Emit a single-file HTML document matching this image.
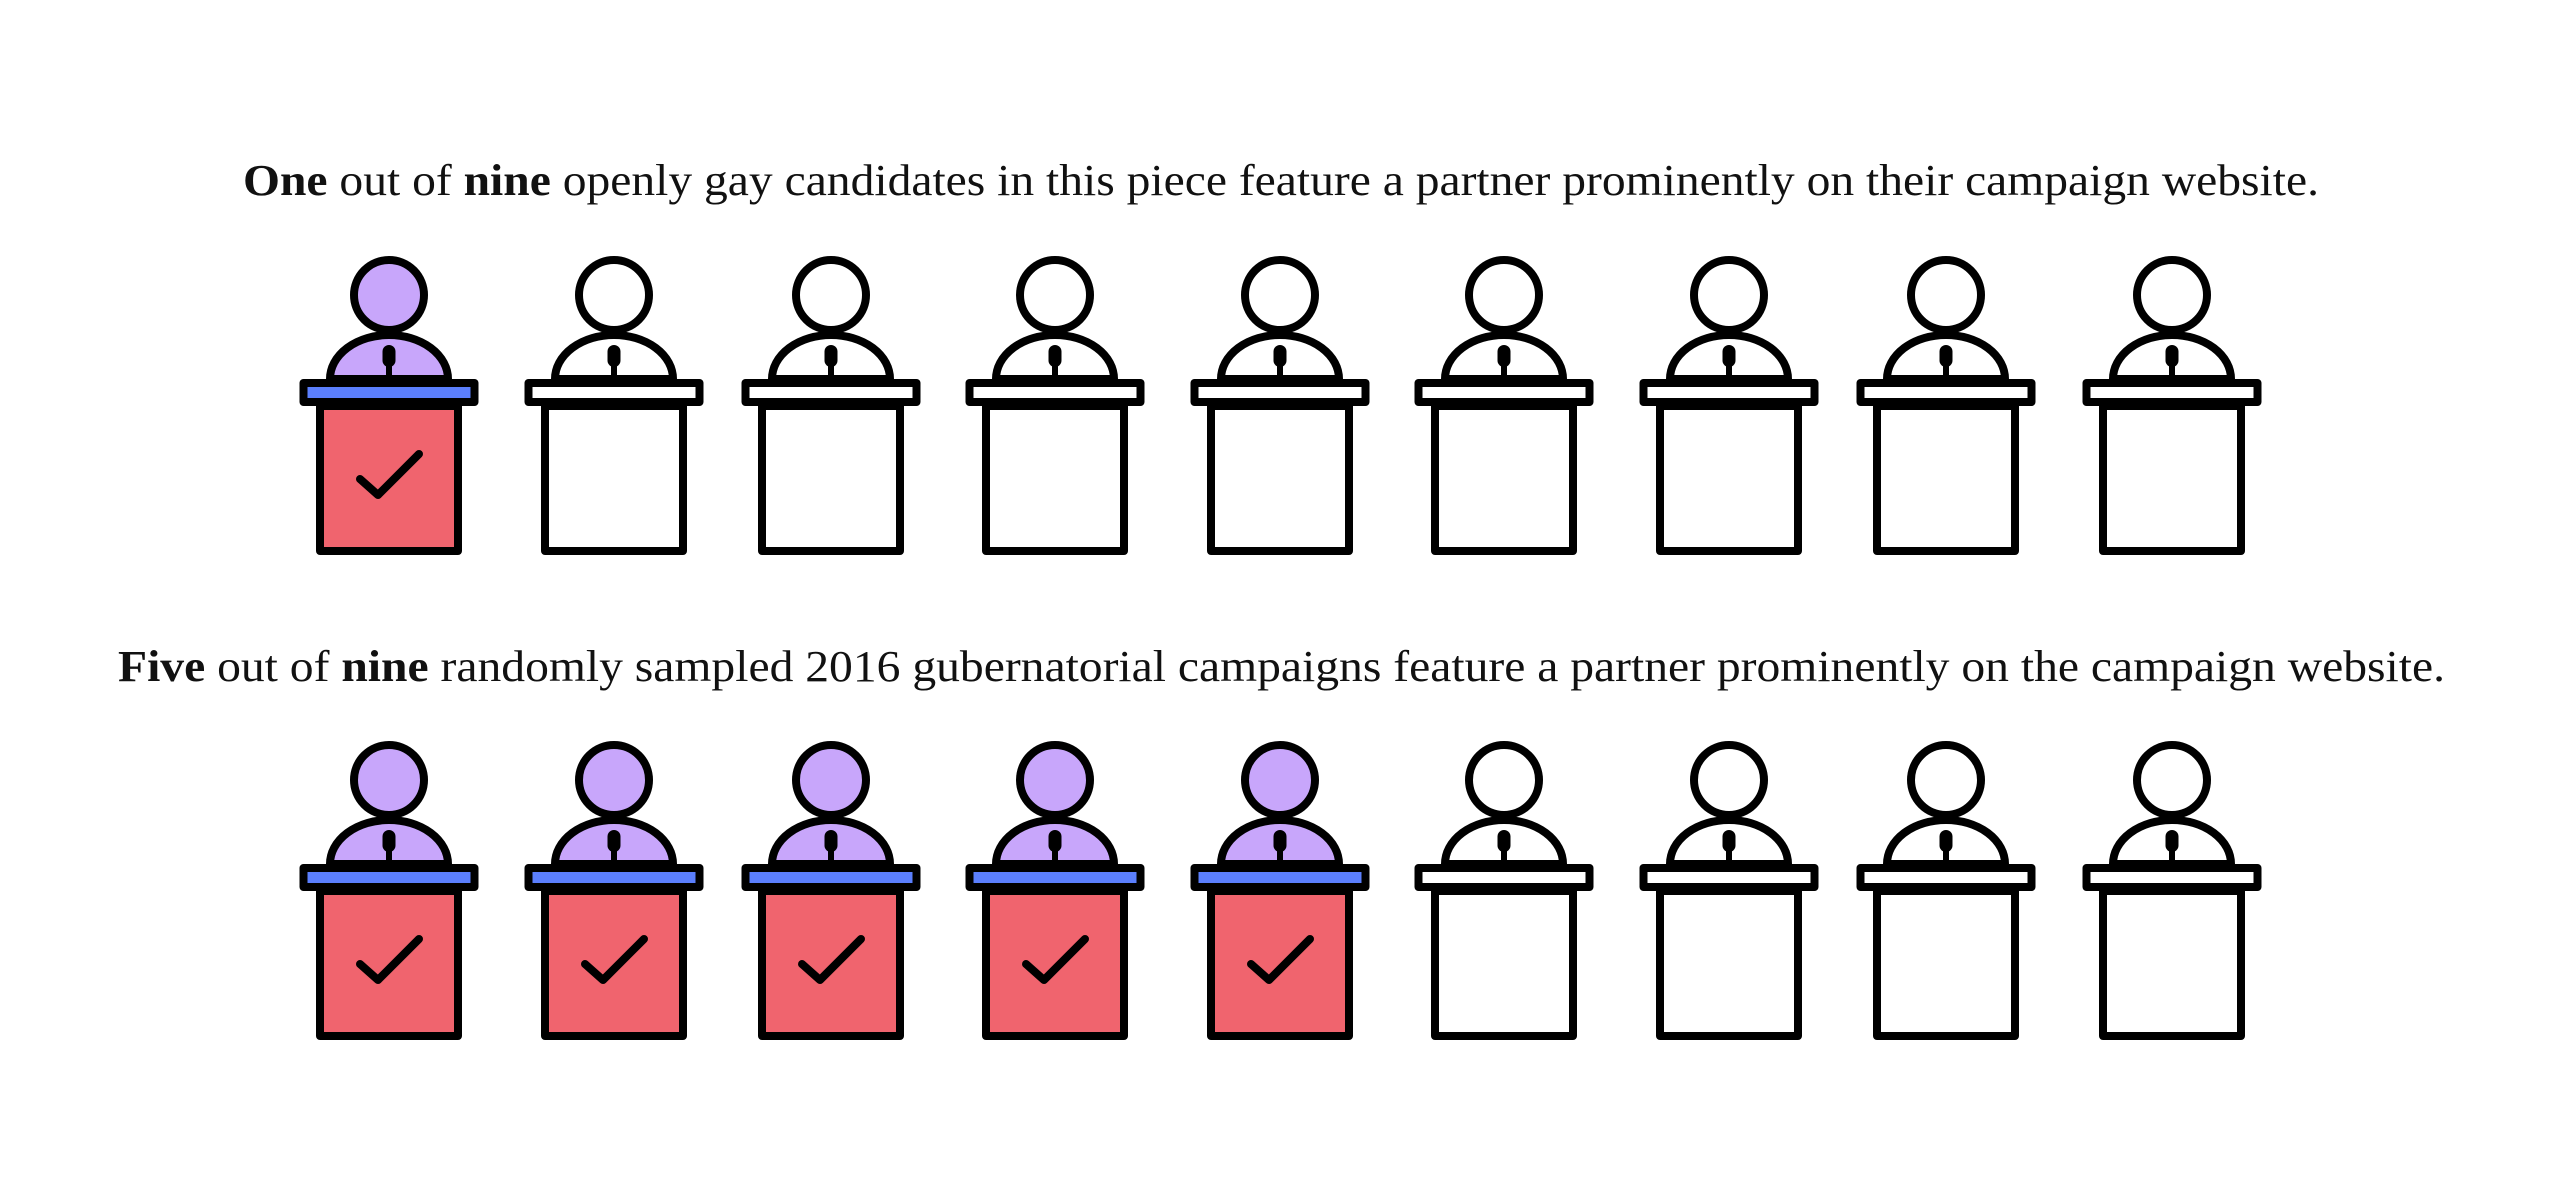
<!DOCTYPE html>
<html><head><meta charset="utf-8"><style>
html,body{margin:0;padding:0;background:#fff;}
svg{display:block;}
text{font-family:"Liberation Serif",serif;font-size:44px;fill:#111;}
</style></head><body>
<svg width="2560" height="1200" viewBox="0 0 2560 1200" xmlns="http://www.w3.org/2000/svg">
<defs>
<g id="on" stroke="#000" stroke-width="8" stroke-linejoin="round" stroke-linecap="round">
<path d="M -59 379 A 59 44 0 0 1 59 379 Z" fill="#c8a6fb"/>
<rect x="-3" y="350" width="6" height="30" fill="#000" stroke="none"/>
<rect x="-6.5" y="345" width="13" height="22" rx="6.5" fill="#000" stroke="none"/>
<rect x="-69" y="406" width="138" height="145" fill="#f0646e"/>
<rect x="-85.5" y="383" width="171" height="19" fill="#5b7ffd"/>
<circle cx="0" cy="295" r="35" fill="#c8a6fb"/>
<polyline points="-29,479 -11,495 30,454" fill="none"/>
</g>
<g id="off" stroke="#000" stroke-width="8" stroke-linejoin="round" stroke-linecap="round">
<path d="M -59 379 A 59 44 0 0 1 59 379 Z" fill="#fff"/>
<rect x="-3" y="350" width="6" height="30" fill="#000" stroke="none"/>
<rect x="-6.5" y="345" width="13" height="22" rx="6.5" fill="#000" stroke="none"/>
<rect x="-69" y="406" width="138" height="145" fill="#fff"/>
<rect x="-85.5" y="383" width="171" height="19" fill="#fff"/>
<circle cx="0" cy="295" r="35" fill="#fff"/>
</g>
</defs>
<text x="243" y="195" textLength="2076" lengthAdjust="spacingAndGlyphs"><tspan font-weight="bold">One</tspan> out of <tspan font-weight="bold">nine</tspan> openly gay candidates in this piece feature a partner prominently on their campaign website.</text>
<use href="#on" x="389" y="0"/>
<use href="#off" x="614" y="0"/>
<use href="#off" x="831" y="0"/>
<use href="#off" x="1055" y="0"/>
<use href="#off" x="1280" y="0"/>
<use href="#off" x="1504" y="0"/>
<use href="#off" x="1729" y="0"/>
<use href="#off" x="1946" y="0"/>
<use href="#off" x="2172" y="0"/>
<text x="118" y="681" textLength="2327" lengthAdjust="spacingAndGlyphs"><tspan font-weight="bold">Five</tspan> out of <tspan font-weight="bold">nine</tspan> randomly sampled 2016 gubernatorial campaigns feature a partner prominently on the campaign website.</text>
<use href="#on" x="389" y="485"/>
<use href="#on" x="614" y="485"/>
<use href="#on" x="831" y="485"/>
<use href="#on" x="1055" y="485"/>
<use href="#on" x="1280" y="485"/>
<use href="#off" x="1504" y="485"/>
<use href="#off" x="1729" y="485"/>
<use href="#off" x="1946" y="485"/>
<use href="#off" x="2172" y="485"/>
</svg>
</body></html>
